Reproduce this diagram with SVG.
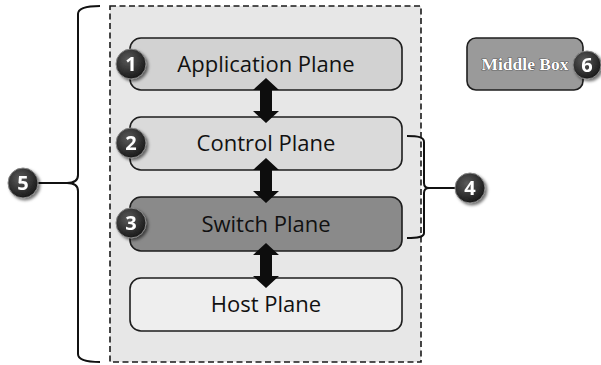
<svg xmlns="http://www.w3.org/2000/svg" width="601" height="365" viewBox="0 0 601 365">
<defs>
<radialGradient id="badge" cx="0.4" cy="0.35" r="0.7">
<stop offset="0" stop-color="#5a5a5a"/>
<stop offset="1" stop-color="#151515"/>
</radialGradient>
<filter id="sh" x="-30%" y="-30%" width="170%" height="170%">
<feGaussianBlur in="SourceAlpha" stdDeviation="1.6"/>
<feOffset dx="1.5" dy="1.5" result="b"/>
<feFlood flood-color="#000" flood-opacity="0.55"/>
<feComposite in2="b" operator="in"/>
<feMerge><feMergeNode/><feMergeNode in="SourceGraphic"/></feMerge>
</filter>
</defs>
<style>
.box{stroke:#1e1e1e;stroke-width:1.6}
.lbl{font-family:"Open Sans","Liberation Sans",sans-serif;font-size:22px;fill:#111;text-anchor:middle}
.badge{fill:url(#badge);stroke:#8a8a8a;stroke-width:1}
.num{font-family:"Open Sans","Liberation Sans",sans-serif;font-weight:bold;font-size:20px;fill:#fff;text-anchor:middle}
.brace{fill:none;stroke:#111;stroke-width:2}
.arrow{fill:#0d0d0d}
</style>
<rect width="601" height="365" fill="#fff"/>

<g id="container">
<rect x="110" y="6" width="311" height="356" fill="#e7e7e7" stroke="#1a1a1a" stroke-width="1.6" stroke-dasharray="6,3.5"/>
</g>

<g id="application-plane">
<rect class="box" x="130" y="38" width="272" height="52" rx="11" fill="#d2d2d2"/>
<text class="lbl" x="266" y="72">Application Plane</text>
</g>
<g id="control-plane">
<rect class="box" x="130" y="117" width="272" height="53" rx="11" fill="#dadada"/>
<text class="lbl" x="266" y="151">Control Plane</text>
</g>
<g id="switch-plane">
<rect class="box" x="130" y="197" width="272" height="54" rx="11" fill="#8a8a8a"/>
<text class="lbl" x="266" y="232">Switch Plane</text>
</g>
<g id="host-plane">
<rect class="box" x="130" y="278" width="272" height="53" rx="11" fill="#eeeeee"/>
<text class="lbl" x="266" y="312">Host Plane</text>
</g>

<g id="middle-box">
<rect class="box" x="467" y="38" width="116" height="52" rx="9" fill="#9a9a9a"/>
<text x="525" y="70" font-family="'Liberation Serif',serif" font-weight="bold" font-size="17.5" text-anchor="middle" fill="#fff" stroke="#222" stroke-width="0.7" paint-order="stroke">Middle Box</text>
</g>

<g id="connectors">
<polygon class="arrow" points="266,78 279,90 272,90 272,111 279,111 266,123 253,111 260,111 260,90 253,90"/>
<polygon class="arrow" points="266,158 279,170 272,170 272,191 279,191 266,203 253,191 260,191 260,170 253,170"/>
<polygon class="arrow" points="266,243 279,255 272,255 272,276 279,276 266,288 253,276 260,276 260,255 253,255"/>
<path class="brace" d="M100,6 C86,6 78,8 78,14 L78,175 C78,180 74,183 67,183 C74,183 78,186 78,191 L78,354 C78,360 86,362 100,362"/>
<line class="brace" x1="38" y1="183" x2="67" y2="183"/>
<path class="brace" d="M407,136 C418,136 424,137 424,142 L424,183 C424,186 426,188 429,188 C426,188 424,190 424,193 L424,233 C424,237 418,238 407,238"/>
<line class="brace" x1="429" y1="188" x2="456" y2="188"/>
</g>

<g id="badge-1" filter="url(#sh)"><circle class="badge" cx="131" cy="64" r="15"/><text class="num" x="131" y="71">1</text></g>
<g id="badge-2" filter="url(#sh)"><circle class="badge" cx="131" cy="143" r="15"/><text class="num" x="131" y="150">2</text></g>
<g id="badge-3" filter="url(#sh)"><circle class="badge" cx="131" cy="223" r="15"/><text class="num" x="131" y="230">3</text></g>
<g id="badge-4" filter="url(#sh)"><circle class="badge" cx="470" cy="188" r="15"/><text class="num" x="470" y="195">4</text></g>
<g id="badge-5" filter="url(#sh)"><circle class="badge" cx="23" cy="183" r="15"/><text class="num" x="23" y="190">5</text></g>
<g id="badge-6" filter="url(#sh)"><circle class="badge" cx="587" cy="65" r="14"/><text class="num" x="587" y="72">6</text></g>
</svg>
